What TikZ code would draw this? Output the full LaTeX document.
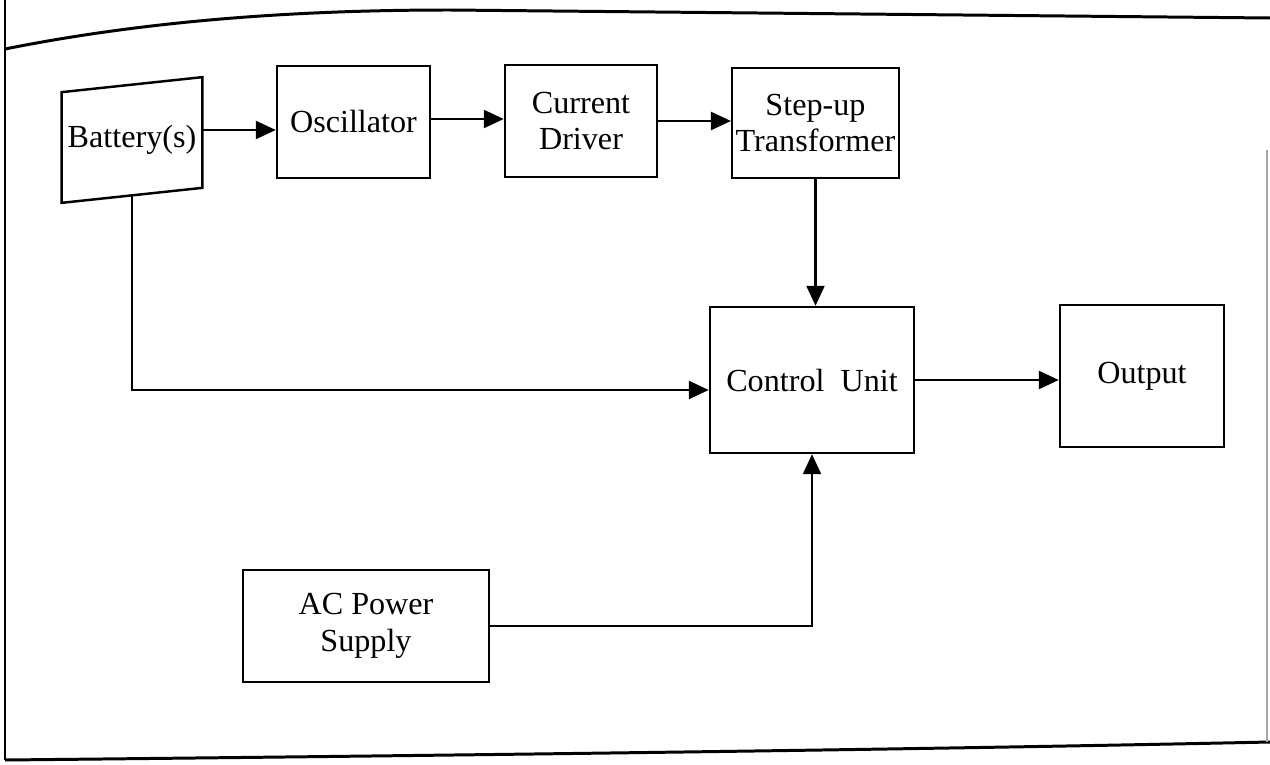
\documentclass[tikz,border=0pt]{standalone}
\usepackage{fontspec}
\setmainfont{Liberation Serif}
\usetikzlibrary{arrows.meta, positioning, calc}
\tikzset{
  block/.style={
    rectangle, draw=black, fill=white, line width=1.4pt,
    align=center, font=\fontsize{18.3}{21}\selectfont, inner sep=2pt,
  },
  batt/.style={
    rectangle, draw=none,
    minimum width=2.8cm, minimum height=2.2cm,
    align=center, font=\fontsize{18.3}{21}\selectfont, inner sep=2pt,
  },
  arrow/.style={
    -{Triangle[length=0.4cm, width=0.36cm]}, line width=1.3pt, draw=black,
  },
  frame/.style={
    line width=1.7pt, draw=black,
  }
}
\begin{document}
\begin{tikzpicture}

  \useasboundingbox (0,0) rectangle (25.4,-15.3);

  % page frame
  \draw[frame] (0.1,0) -- (0.1,-15.2);
  \draw[frame] (0.1,-0.98) .. controls (3,-0.4) and (6,-0.2) .. (9,-0.2) -- (25.4,-0.36);
  \draw[frame] (0.1,-15.2) .. controls (8,-15.12) and (18,-15.0) .. (25.4,-14.84);
  \draw[line width=0.8pt, draw=black!35] (25.34,-3) -- (25.34,-14.84);

  \node[batt] (bat) at (2.64,-2.8) {Battery(s)};
  \draw[line width=1.4pt]
    ([yshift=-0.15cm]bat.north west) -- ([yshift=0.15cm]bat.north east)
    -- ([yshift=0.15cm]bat.south east) -- ([yshift=-0.15cm]bat.south west) -- cycle;

  \node[block, minimum width=3.06cm, minimum height=2.24cm] (osc) at (7.07,-2.44) {Oscillator};
  \node[block, minimum width=3.04cm, minimum height=2.24cm] (drv) at (11.62,-2.42) {Current\\Driver};
  \node[block, minimum width=3.3cm, minimum height=2.2cm] (xfmr) at (16.31,-2.46) {Step-up\\Transformer};
  \node[block, minimum width=4.08cm, minimum height=2.92cm] (ctrl) at (16.24,-7.6) {Control\ \ Unit};
  \node[block, minimum width=3.28cm, minimum height=2.84cm] (out) at (22.84,-7.52) {Output};
  \node[block, minimum width=4.92cm, minimum height=2.24cm] (ac) at (7.32,-12.52) {AC Power\\Supply};

  \draw[arrow] ([yshift=0.2cm]bat.east) -- ([yshift=0.2cm]bat.east -| osc.west);
  \draw[arrow] ([yshift=0.06cm]osc.east) -- ([yshift=0.06cm]osc.east -| drv.west);
  \draw[arrow] (drv.east) -- (drv.east -| xfmr.west);
  \draw[arrow] (xfmr.south) -- (xfmr.south |- ctrl.north);
  \draw[arrow] (bat.south) |- ([yshift=-0.2cm]ctrl.west);
  \draw[arrow] (ctrl.east) -- (ctrl.east -| out.west);
  \draw[arrow] (ac.east) -| (ctrl.south);

\end{tikzpicture}
\end{document}
